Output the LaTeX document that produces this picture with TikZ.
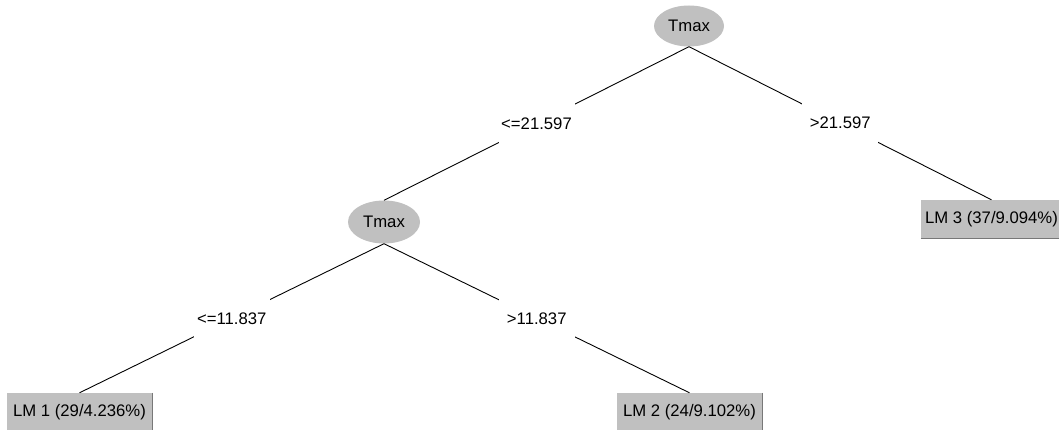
\documentclass[tikz,border=0pt]{standalone}
\usepackage{fontspec}
\setmainfont{Liberation Sans}
\usetikzlibrary{shapes.geometric}
\definecolor{nodegray}{RGB}{192,192,192}
\definecolor{edgegray}{RGB}{120,120,120}
\begin{document}
\begin{tikzpicture}[x=1pt,y=-1pt,
  every node/.style={font=\fontsize{16.7}{20}\selectfont, inner sep=0pt},
  splitnode/.style={ellipse, fill=nodegray, minimum width=70, minimum height=41},
  leafnode/.style={rectangle, fill=nodegray, minimum width=145, minimum height=38},
  lbl/.style={fill=white, minimum width=76, minimum height=40},
  conn/.style={draw=black, line width=0.9pt},
  shade/.style={draw=edgegray, line width=1pt}]
\useasboundingbox (0,0) rectangle (1059,430);
\fill[white] (0,0) rectangle (1059,430);
\node[splitnode] (t1) at (689,26) {Tmax};
\node[splitnode, minimum width=72, minimum height=43] (t2) at (384,222) {Tmax};
\node[leafnode, minimum width=141] (lm3) at (991.5,219) {LM 3 (37/9.094\%)};
\node[leafnode] (lm1) at (79.5,412) {LM 1 (29/4.236\%)};
\node[leafnode] (lm2) at (689.5,412) {LM 2 (24/9.102\%)};
\draw[shade] (lm1.north east) -- (lm1.south east);
\draw[shade] (lm2.north east) -- (lm2.south east);
\draw[shade] (lm3.south west) -- (lm3.south east);
\draw[conn] (t1.south) -- node[lbl] {<=21.597} (t2.north);
\draw[conn] (t1.south) -- node[lbl] {>21.597} (lm3.north);
\draw[conn] (t2.south) -- node[lbl] {<=11.837} (lm1.north);
\draw[conn] (t2.south) -- node[lbl] {>11.837} (lm2.north);
\end{tikzpicture}
\end{document}
